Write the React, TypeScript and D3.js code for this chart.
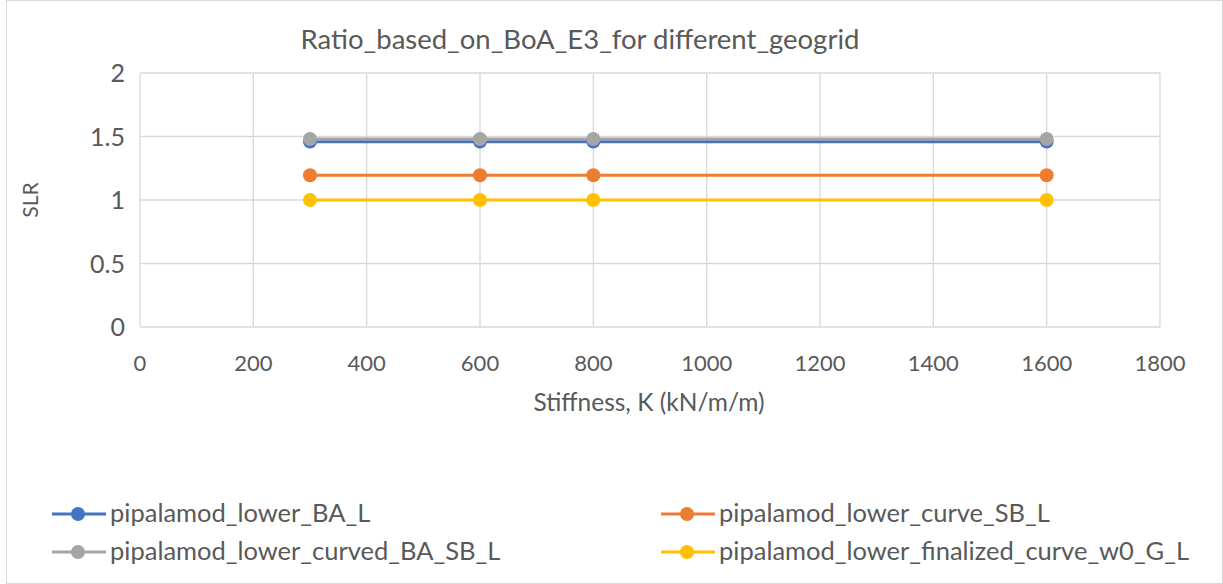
import React, { useEffect, useRef } from 'react';
import * as d3 from 'd3';

const stiffness = [300, 600, 800, 1600];
const seriesNames = [
  'pipalamod_lower_BA_L',
  'pipalamod_lower_curve_SB_L',
  'pipalamod_lower_curved_BA_SB_L',
  'pipalamod_lower_finalized_curve_w0_G_L',
];
const lowerBA = [1.46, 1.46, 1.46, 1.46];
const curveSB = [1.195, 1.195, 1.195, 1.195];
const curvedBASB = [1.48, 1.48, 1.48, 1.48];
const finalizedW0 = [1.0, 1.0, 1.0, 1.0];
const colors = ['#4472C4', '#ED7D31', '#A5A5A5', '#FFC000'];
const xTicks = [0, 200, 400, 600, 800, 1000, 1200, 1400, 1600, 1800];
const yTicks = [0, 0.5, 1, 1.5, 2];

const FONT = 'Lato, "Open Sans", sans-serif';

export default function App() {
  const ref = useRef<SVGSVGElement>(null);

  useEffect(() => {
    const svg = d3.select(ref.current);
    svg.selectAll('*').remove();

    const W = 1223, H = 584;
    const left = 140, right = 1160, top = 73, bottom = 327;

    svg.append('rect')
      .attr('x', 6.5).attr('y', 0.5)
      .attr('width', W - 7).attr('height', H - 1)
      .attr('fill', '#fff').attr('stroke', '#d9d9d9');

    const x = d3.scaleLinear().domain([0, 1800]).range([left, right]);
    const y = d3.scaleLinear().domain([0, 2]).range([bottom, top]);

    // gridlines
    svg.append('g').selectAll('line')
      .data(xTicks).enter().append('line')
      .attr('x1', d => x(d)).attr('x2', d => x(d))
      .attr('y1', top).attr('y2', bottom)
      .attr('stroke', '#d9d9d9').attr('stroke-width', 1.3);
    svg.append('g').selectAll('line')
      .data(yTicks).enter().append('line')
      .attr('x1', left).attr('x2', right)
      .attr('y1', d => y(d)).attr('y2', d => y(d))
      .attr('stroke', '#d9d9d9').attr('stroke-width', 1.3);

    // tick labels
    svg.append('g').selectAll('text')
      .data(yTicks).enter().append('text')
      .attr('x', 125).attr('y', d => y(d) + 9)
      .attr('text-anchor', 'end')
      .attr('font-family', FONT).attr('font-size', 25).attr('fill', '#595959')
      .text(d => String(d));
    svg.append('g').selectAll('text')
      .data(xTicks).enter().append('text')
      .attr('x', d => x(d)).attr('y', 371)
      .attr('text-anchor', 'middle')
      .attr('font-family', FONT).attr('font-size', 22).attr('fill', '#595959')
      .text(d => String(d));

    // titles
    svg.append('text')
      .attr('x', 580).attr('y', 49).attr('text-anchor', 'middle')
      .attr('font-family', FONT).attr('font-size', 27.5).attr('fill', '#595959')
      .text('Ratio_based_on_BoA_E3_for different_geogrid');
    svg.append('text')
      .attr('x', 649).attr('y', 411).attr('text-anchor', 'middle')
      .attr('font-family', FONT).attr('font-size', 24.5).attr('fill', '#595959')
      .text('Stiffness, K (kN/m/m)');
    svg.append('text')
      .attr('transform', `translate(38,${(top + bottom) / 2}) rotate(-90)`)
      .attr('text-anchor', 'middle')
      .attr('font-family', FONT).attr('font-size', 21).attr('fill', '#595959')
      .text('SLR');

    const allSeries = [lowerBA, curveSB, curvedBASB, finalizedW0];
    const line = d3.line<number>()
      .x((_, i) => x(stiffness[i]))
      .y(d => y(d));

    allSeries.forEach((vals, s) => {
      const g = svg.append('g');
      g.append('path')
        .attr('d', line(vals))
        .attr('fill', 'none')
        .attr('stroke', colors[s])
        .attr('stroke-width', 3.2);
      g.selectAll('circle')
        .data(vals).enter().append('circle')
        .attr('cx', (_, i) => x(stiffness[i]))
        .attr('cy', d => y(d))
        .attr('r', 7)
        .attr('fill', colors[s]);
    });

    // legend
    const legendPos = [
      { lx: 52, ly: 514 },
      { lx: 661, ly: 514 },
      { lx: 52, ly: 552 },
      { lx: 661, ly: 552 },
    ];
    seriesNames.forEach((name, s) => {
      const p = legendPos[s];
      const g = svg.append('g');
      g.append('line')
        .attr('x1', p.lx).attr('x2', p.lx + 54)
        .attr('y1', p.ly).attr('y2', p.ly)
        .attr('stroke', colors[s]).attr('stroke-width', 3.2);
      g.append('circle')
        .attr('cx', p.lx + 26).attr('cy', p.ly).attr('r', 7)
        .attr('fill', colors[s]);
      g.append('text')
        .attr('x', p.lx + 58).attr('y', p.ly + 8)
        .attr('font-family', FONT).attr('font-size', 25.5).attr('fill', '#595959')
        .text(name);
    });
  }, []);

  return (
    <svg
      ref={ref}
      width={1223}
      height={584}
      style={{ position: 'absolute', left: 0, top: 0, display: 'block' }}
    />
  );
}
